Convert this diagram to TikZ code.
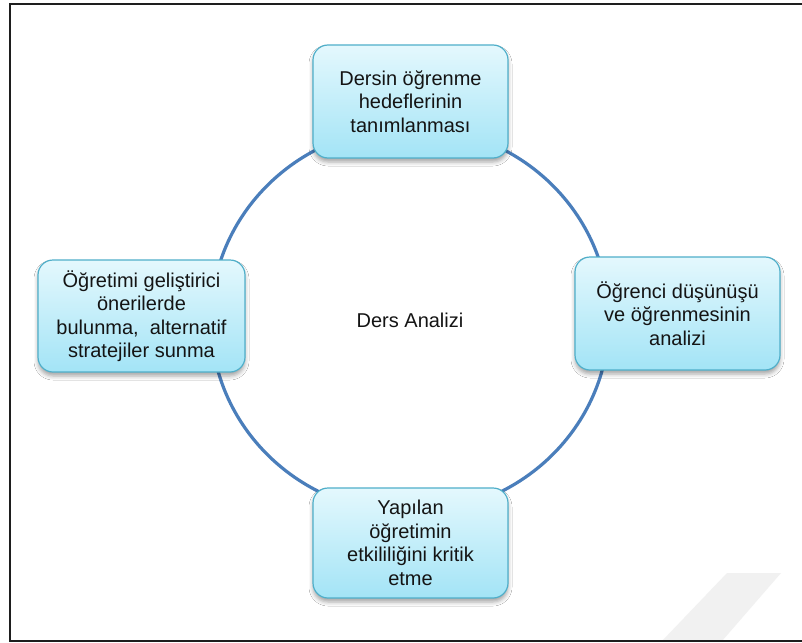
\documentclass[tikz,border=0pt]{standalone}
\usepackage{fontspec}
\setmainfont{Liberation Sans}
\usetikzlibrary{shapes.geometric,shadows.blur}

\definecolor{ringblue}{HTML}{4A7EBB}
\definecolor{boxedge}{HTML}{4FAFCA}
\definecolor{boxtop}{HTML}{E4F8FD}
\definecolor{boxbottom}{HTML}{A3E4F6}
\definecolor{framegray}{HTML}{1E1E1E}
\definecolor{markgray}{HTML}{F1F1F1}
\definecolor{labeltext}{HTML}{141414}

\begin{document}
\begin{tikzpicture}[x=1pt,y=-1pt,
  stagebox/.style={draw=boxedge, line width=1.2pt, rounded corners=15pt,
    top color=boxtop, bottom color=boxbottom, align=center, inner sep=0pt,
    font=\fontsize{20}{23.5}\selectfont, text=labeltext,
    blur shadow={shadow xshift=0pt, shadow yshift=-4pt,
      shadow blur radius=4pt, shadow opacity=35}},
  cycle ring/.style={ellipse, draw=ringblue, line width=3.2pt, inner sep=0pt,
    minimum width=398pt, minimum height=386pt,
    font=\fontsize{20}{23.5}\selectfont, text=labeltext}]

  \useasboundingbox (0,0) rectangle (802,642);
  \fill[white] (0,0) rectangle (802,642);

  % faint mark in the lower right corner
  \fill[markgray] (727,573) -- (781,573) -- (722,641) -- (662,641) -- cycle;

  % outer frame, open on the right
  \draw[framegray, line width=2pt] (802,4) -- (10,4) -- (10,641) -- (802,641);

  % the cycle and its title
  \node[cycle ring] (ring) at (410,320) {\raisebox{-3pt}{Ders Analizi}};

  % the four stages around the cycle
  \node[stagebox, minimum width=195pt, minimum height=113pt] (goals) at (410.5,101.5)
    {Dersin öğrenme\\hedeflerinin\\tanımlanması};
  \node[stagebox, minimum width=205pt, minimum height=113pt] (learning) at (677.5,313.5)
    {Öğrenci düşünüşü\\ve öğrenmesinin\\analizi};
  \node[stagebox, minimum width=195pt, minimum height=110pt] (critique) at (410.5,543)
    {Yapılan\\öğretimin\\etkililiğini kritik\\etme};
  \node[stagebox, minimum width=207pt, minimum height=112pt] (improve) at (141.5,316)
    {Öğretimi geliştirici\\önerilerde\\bulunma,~ alternatif\\stratejiler sunma};
\end{tikzpicture}
\end{document}
